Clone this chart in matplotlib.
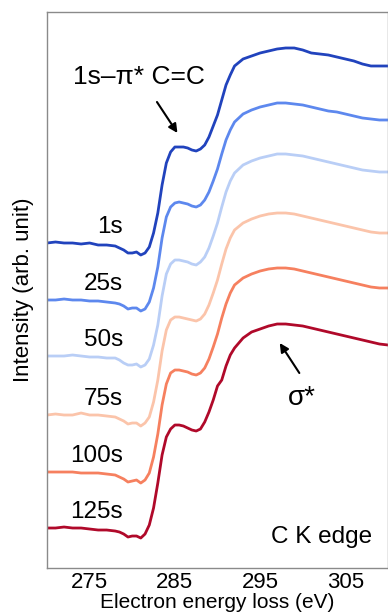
import matplotlib.pyplot as plt

plt.rcParams['font.family'] = ['Liberation Sans', 'DejaVu Sans']

# energy loss grid (eV)
energy = [270, 271, 272, 273, 274, 275, 276, 277, 278,
          278.5, 279, 279.5, 280, 280.5, 281, 281.5, 282, 282.5, 283, 283.5,
          284, 284.5, 285, 285.5, 286, 286.5, 287, 287.5, 288, 288.5, 289,
          289.5, 290, 290.5, 291, 291.5, 292,
          293, 294, 295, 296, 297, 298, 299, 300, 301, 302, 303, 304, 305,
          306, 307, 308, 309, 310]

labels = ['1s', '25s', '50s', '75s', '100s', '125s']
offsets = [325, 268, 212, 153, 96, 40]
colors = ['#2143bd', '#5d88ee', '#b9cef6', '#fbc4aa', '#f6805f', '#b0092a']

s_1 = [0, 1, 0, 0, -1, 0, -2, -2, -3,
       -5, -7, -10, -10, -9, -12, -10, -4, 10, 30, 58, 80, 91, 96, 96, 96, 95,
       93, 92, 94, 98, 106, 117, 128, 143, 158, 168, 177,
       184, 187, 190, 192, 194, 195, 195, 193, 190, 189, 188, 186, 184, 182,
       179, 177, 177, 177]
s_25 = [0, 0, 1, 0, 0, -1, -1, -2, -3,
        -4, -6, -9, -8, -8, -11, -9, -2, 12, 33, 62, 83, 93, 97, 98, 97, 96,
        94, 93, 95, 100, 108, 119, 131, 146, 160, 170, 178,
        186, 190, 193, 195, 197, 197, 196, 195, 193, 191, 189, 188, 186, 184,
        182, 181, 180, 180]
s_50 = [0, 0, 0, 1, 0, -1, -1, -2, -2,
        -4, -7, -9, -9, -8, -11, -9, -3, 11, 31, 60, 82, 92, 96, 96, 95, 94,
        92, 91, 94, 99, 108, 120, 133, 149, 164, 175, 183,
        191, 195, 198, 200, 202, 202, 201, 200, 198, 196, 194, 192, 190, 188,
        186, 185, 184, 184]
s_75 = [0, 1, 0, 0, 2, 0, 0, -1, -2,
        -4, -6, -9, -8, -8, -11, -8, -2, 13, 35, 64, 85, 95, 98, 98, 97, 96,
        95, 94, 96, 101, 110, 122, 135, 151, 166, 177, 185,
        192, 196, 199, 201, 202, 202, 201, 199, 197, 195, 193, 191, 189, 187,
        185, 183, 182, 182]
s_100 = [0, 0, 0, 0, -1, -1, -1, -2, -3,
         -5, -7, -10, -9, -8, -11, -8, -1, 15, 38, 67, 88, 99, 102, 102, 101,
         100, 98, 97, 99, 104, 113, 125, 138, 154, 168, 179, 187,
         194, 198, 201, 203, 204, 204, 203, 201, 199, 197, 195, 193, 191, 189,
         187, 185, 184, 184]
s_125 = [0, 0, 1, 0, 0, -1, -2, -2, -3,
         -4, -6, -9, -8, -8, -10, -6, 3, 20, 45, 73, 91, 99, 103, 103, 102,
         100, 98, 97, 99, 106, 116, 128, 142, 148, 162, 173, 180,
         190, 196, 199, 202, 204, 204, 203, 202, 200, 198, 196, 194, 192, 190,
         188, 186, 184, 183]
spectra = [s_1, s_25, s_50, s_75, s_100, s_125]

fig = plt.figure(figsize=(3.88, 6.15), dpi=100)
ax = fig.add_axes([0.1211, 0.0764, 0.8789, 0.9041])

for lab, off, col, spec in zip(labels, offsets, colors, spectra):
    ax.plot(energy, [v + off for v in spec], color=col, lw=2.0)
    ax.text(278.9, off + 16, lab, ha='right', va='center', fontsize=17.5)

arrow = dict(arrowstyle='-|>', color='black', lw=1.5,
             shrinkA=0, shrinkB=0, mutation_scale=13)
ax.text(280.8, 491, '1s\u2013\u03c0* C=C', ha='center', va='center',
        fontsize=19)
ax.annotate('', xy=(285.3, 435), xytext=(282.9, 466), arrowprops=arrow)
ax.annotate('', xy=(297.3, 225), xytext=(299.6, 195), arrowprops=arrow)
ax.text(299.9, 170, '\u03c3*', ha='center', va='center', fontsize=20)
ax.text(308.1, 31, 'C K edge', ha='right', va='center', fontsize=17.5)

ax.set_xlim(270, 310)
ax.set_ylim(0, 556)
ax.set_xticks([275, 285, 295, 305])
ax.set_yticks([])
ax.tick_params(axis='x', length=0, labelsize=16, pad=3)
ax.set_xlabel('Electron energy loss (eV)', fontsize=15, labelpad=0)
ax.set_ylabel('Intensity (arb. unit)', fontsize=16, labelpad=9)
for sp in ax.spines.values():
    sp.set_color('#8a8a8a')
    sp.set_linewidth(1.0)

fig.savefig('out.png', dpi=100)
